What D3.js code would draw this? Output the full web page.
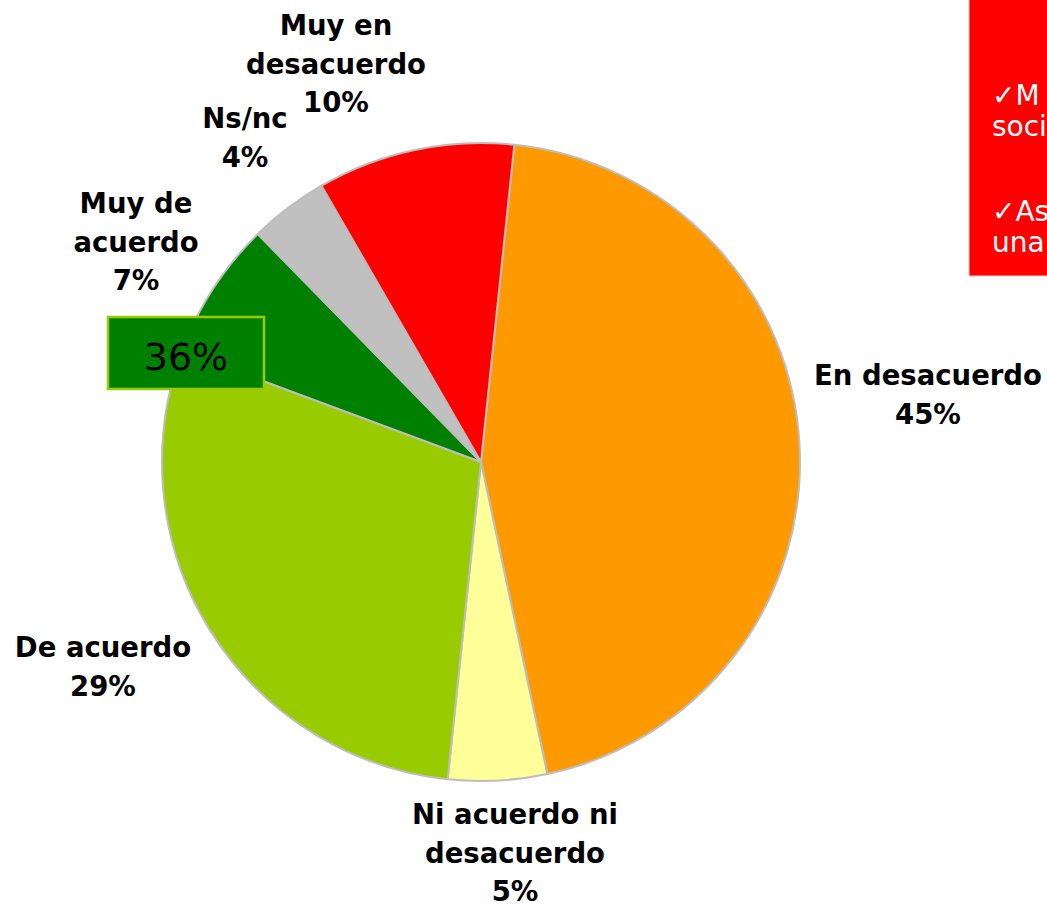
<!DOCTYPE html>
<html>
<head>
<meta charset="utf-8">
<script src="https://cdn.jsdelivr.net/npm/d3@7"></script>
<style>
  html, body { margin: 0; padding: 0; background: #ffffff; overflow: hidden; }
  svg { display: block; }
</style>
</head>
<body>
<svg id="chart" width="1047" height="910"></svg>
<script>
// ---- data ----
const categories = ["En desacuerdo", "Ni acuerdo ni desacuerdo", "De acuerdo", "Muy de acuerdo", "Ns/nc", "Muy en desacuerdo"];
const values = [45, 5, 29, 7, 4, 10];
const colors = ["#ff9900", "#ffff99", "#99cc00", "#008000", "#c0c0c0", "#ff0000"];
const labelLines = [
  ["En desacuerdo", "45%"],
  ["Ni acuerdo ni", "desacuerdo", "5%"],
  ["De acuerdo", "29%"],
  ["Muy de", "acuerdo", "7%"],
  ["Ns/nc", "4%"],
  ["Muy en", "desacuerdo", "10%"]
];
const summaryLabel = "36%";
const noteLines = [["✓M", "soci"], ["✓As", "una"]];

// ---- layout (positions kept separate from data) ----
const cx = 481, cy = 462, radius = 319;
const startDeg = 6;
const labelAnchors = [
  {x: 928, y: 385},
  {x: 515, y: 824},
  {x: 103, y: 657},
  {x: 136, y: 213},
  {x: 245, y: 128},
  {x: 336, y: 35}
];
const lineH = 38.5;
const fontFam = "'DejaVu Sans', Verdana, sans-serif";

const svg = d3.select("#chart");

// pie
const pie = d3.pie().sort(null).value(d => d)
  .startAngle(startDeg * Math.PI / 180)
  .endAngle(startDeg * Math.PI / 180 + 2 * Math.PI);
const arc = d3.arc().innerRadius(0).outerRadius(radius);

const g = svg.append("g").attr("transform", `translate(${cx},${cy})`);
g.selectAll("path.slice")
  .data(pie(values))
  .join("path")
  .attr("class", "slice")
  .attr("d", arc)
  .attr("fill", (d, i) => colors[i])
  .attr("stroke", "#bdbdbd")
  .attr("stroke-width", 2)
  .attr("stroke-linejoin", "round");

// slice labels
const lab = svg.append("g")
  .attr("font-family", fontFam)
  .attr("font-weight", "bold")
  .attr("font-size", 27.5)
  .attr("fill", "#000")
  .attr("text-anchor", "middle");
labelLines.forEach((lines, i) => {
  const t = lab.append("text").attr("x", labelAnchors[i].x).attr("y", labelAnchors[i].y);
  lines.forEach((ln, j) => {
    t.append("tspan").attr("x", labelAnchors[i].x).attr("dy", j === 0 ? 0 : lineH).text(ln);
  });
});

// summary box "36%"
const box = {x: 108, y: 317, w: 156, h: 72};
svg.append("rect")
  .attr("x", box.x).attr("y", box.y).attr("width", box.w).attr("height", box.h)
  .attr("fill", "#008000").attr("stroke", "#99cc00").attr("stroke-width", 2.5);
svg.append("text")
  .attr("x", box.x + box.w / 2).attr("y", box.y + 53)
  .attr("text-anchor", "middle")
  .attr("font-family", fontFam)
  .attr("font-size", 38)
  .attr("fill", "#000")
  .text(summaryLabel);

// red note box at top right (clipped by page edge)
svg.append("rect")
  .attr("x", 969).attr("y", -2).attr("width", 100).attr("height", 278)
  .attr("fill", "#ff0000").attr("stroke", "#f6c8c8").attr("stroke-width", 1);
const note = svg.append("g")
  .attr("font-family", fontFam)
  .attr("font-size", 28)
  .attr("fill", "#ffffff");
const noteStarts = [105, 221];
noteLines.forEach((lines, i) => {
  lines.forEach((ln, j) => {
    note.append("text").attr("x", 992).attr("y", noteStarts[i] + j * 31).text(ln);
  });
});
</script>
</body>
</html>
